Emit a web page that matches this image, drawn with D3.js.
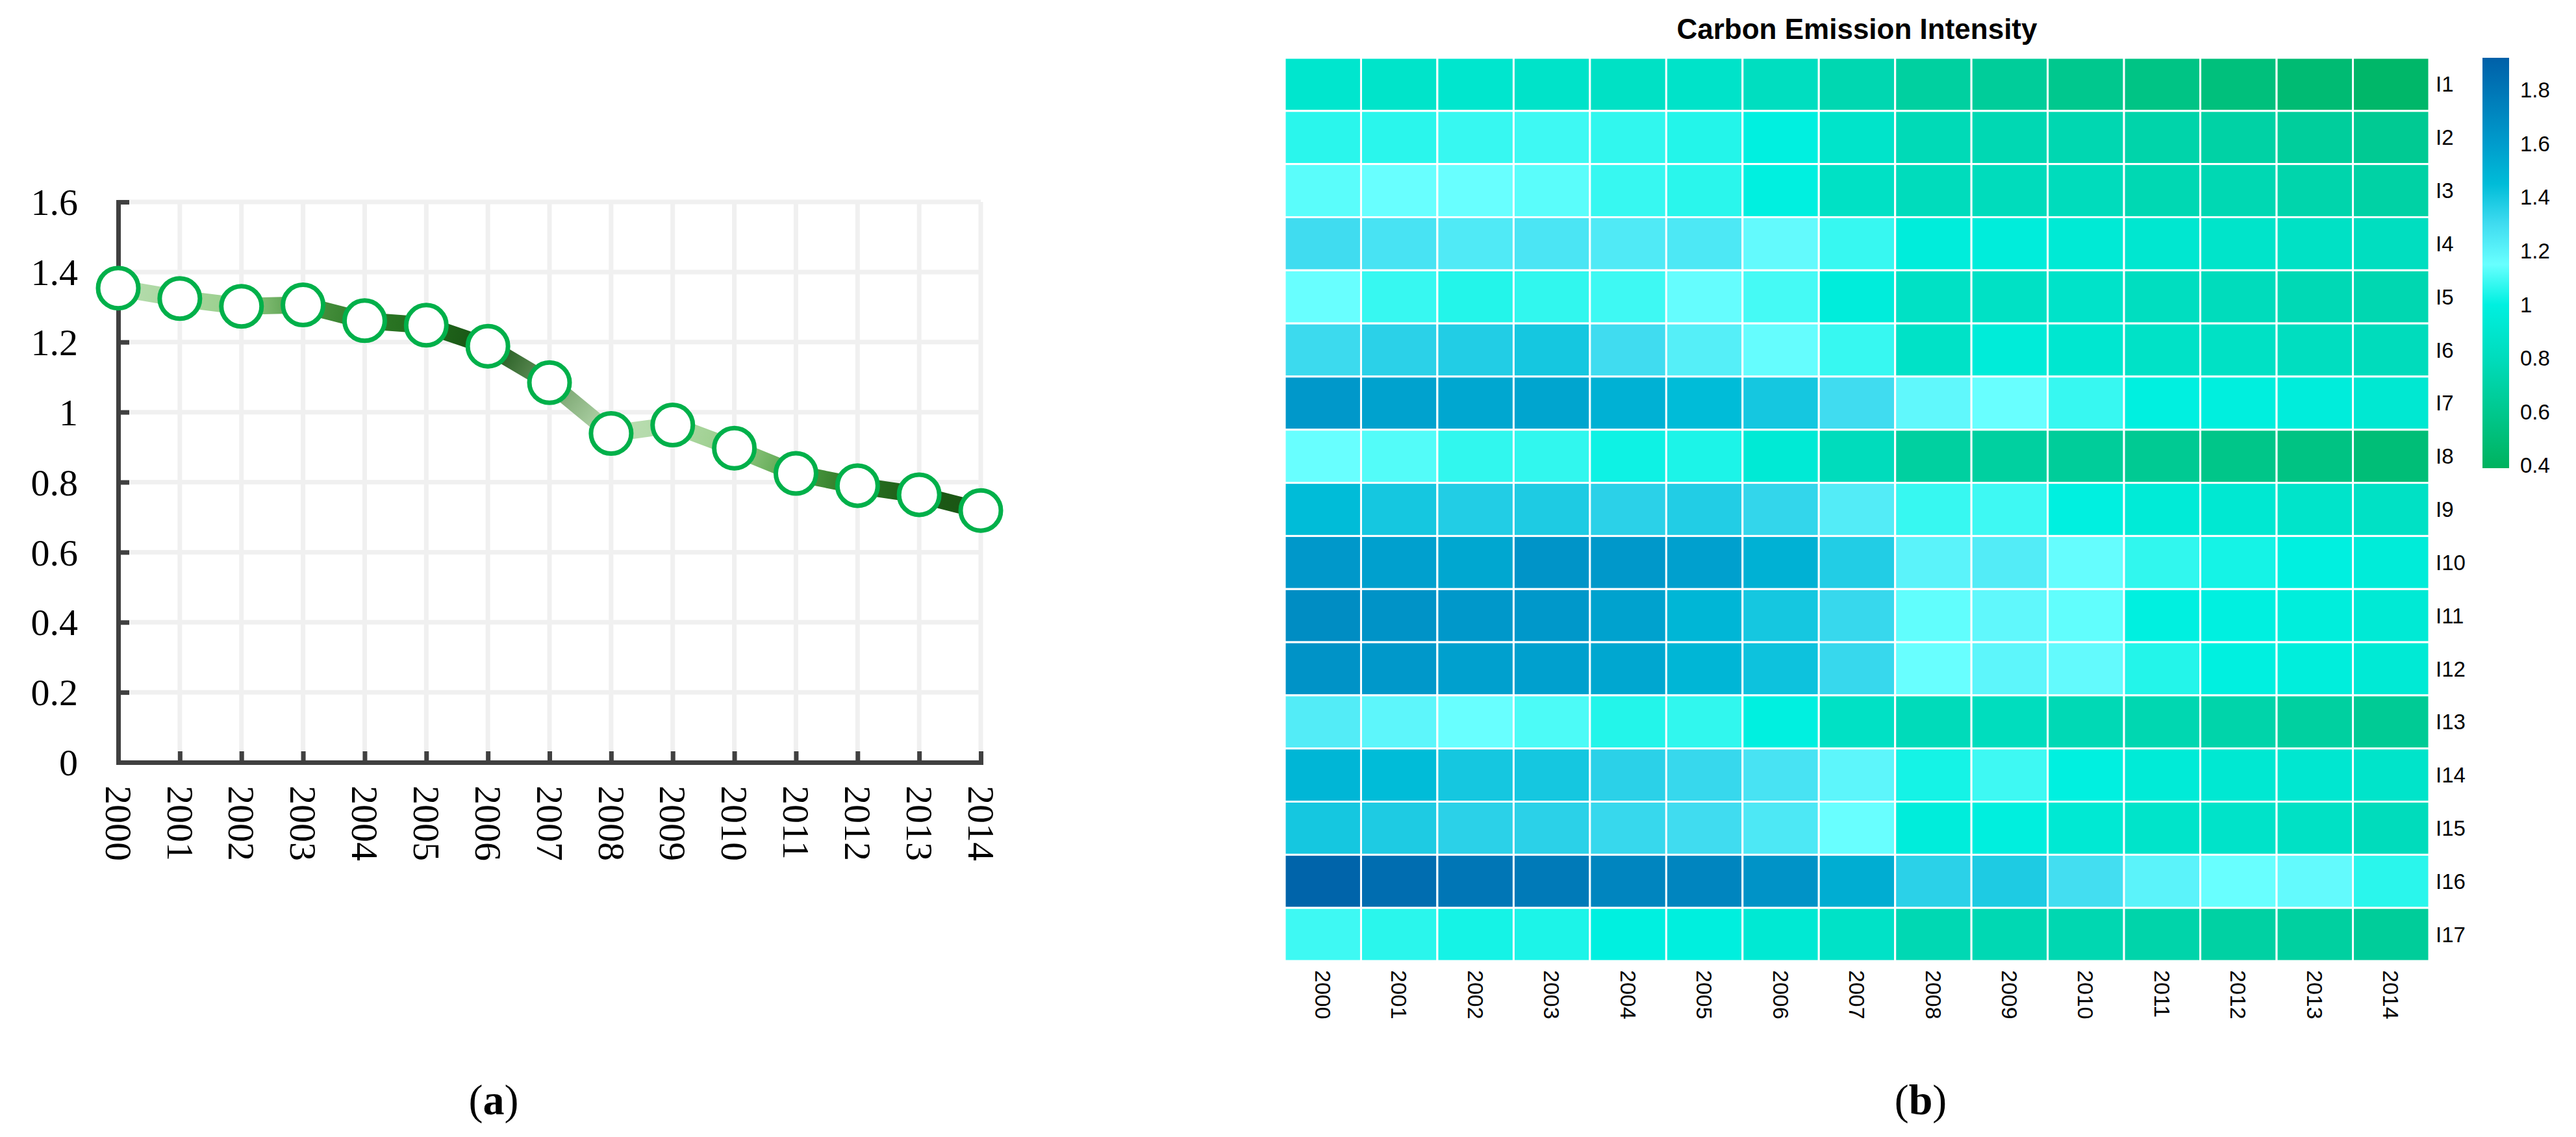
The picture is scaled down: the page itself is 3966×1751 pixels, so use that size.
<!DOCTYPE html>
<html>
<head>
<meta charset="utf-8">
<title>Carbon Emission Intensity</title>
<script src="https://d3js.org/d3.v7.min.js"></script>
<style>
  body { margin: 0; background: #fff; }
  .serif { font-family: "Liberation Serif", "DejaVu Serif", serif; }
  .sans { font-family: "Liberation Sans", Arial, sans-serif; }
</style>
</head>
<body>
<svg width="3966" height="1751"></svg>
<script>
// ---- data ----
var years = ["2000","2001","2002","2003","2004","2005","2006","2007","2008","2009","2010","2011","2012","2013","2014"];
var intensity = [1.354,1.324,1.302,1.306,1.261,1.248,1.188,1.084,0.939,0.963,0.897,0.825,0.790,0.764,0.719];
var yTicks = [0,0.2,0.4,0.6,0.8,1,1.2,1.4,1.6];

var regions = ["I1","I2","I3","I4","I5","I6","I7","I8","I9","I10","I11","I12","I13","I14","I15","I16","I17"];
var I1  = [0.90,0.88,0.90,0.87,0.85,0.87,0.82,0.75,0.68,0.65,0.60,0.56,0.52,0.48,0.44];
var I2  = [1.06,1.06,1.08,1.09,1.07,1.05,1.00,0.88,0.78,0.76,0.75,0.72,0.70,0.66,0.62];
var I3  = [1.13,1.15,1.15,1.13,1.08,1.06,1.00,0.85,0.80,0.80,0.80,0.76,0.76,0.73,0.70];
var I4  = [1.30,1.27,1.24,1.26,1.24,1.25,1.17,1.08,0.97,0.97,0.94,0.91,0.88,0.85,0.82];
var I5  = [1.15,1.08,1.05,1.07,1.09,1.16,1.10,0.97,0.85,0.85,0.87,0.82,0.80,0.77,0.75];
var I6  = [1.31,1.35,1.37,1.40,1.30,1.22,1.16,1.08,0.86,0.96,0.91,0.86,0.85,0.82,0.80];
var I7  = [1.62,1.57,1.55,1.56,1.50,1.45,1.40,1.30,1.18,1.15,1.08,1.00,0.99,0.97,0.92];
var I8  = [1.15,1.12,1.07,1.07,1.02,1.04,0.94,0.80,0.68,0.68,0.65,0.62,0.58,0.55,0.50];
var I9  = [1.45,1.40,1.37,1.38,1.35,1.37,1.33,1.23,1.08,1.09,1.00,0.95,0.92,0.88,0.85];
var I10 = [1.62,1.58,1.55,1.64,1.62,1.58,1.50,1.37,1.20,1.23,1.16,1.07,1.03,1.00,0.96];
var I11 = [1.68,1.65,1.62,1.62,1.57,1.48,1.40,1.32,1.14,1.18,1.14,1.00,1.00,0.98,0.94];
var I12 = [1.65,1.62,1.58,1.58,1.55,1.48,1.42,1.32,1.15,1.19,1.17,1.05,1.00,0.98,0.94];
var I13 = [1.23,1.19,1.15,1.11,1.05,1.07,1.00,0.85,0.79,0.81,0.77,0.75,0.72,0.68,0.63];
var I14 = [1.48,1.45,1.40,1.40,1.35,1.32,1.27,1.19,1.03,1.09,1.00,0.95,0.92,0.91,0.88];
var I15 = [1.40,1.38,1.35,1.35,1.32,1.30,1.25,1.15,0.97,0.99,0.93,0.88,0.87,0.85,0.80];
var I16 = [1.90,1.85,1.80,1.78,1.72,1.72,1.65,1.52,1.35,1.38,1.29,1.20,1.15,1.17,1.06];
var I17 = [1.09,1.06,1.03,1.04,1.00,0.99,0.93,0.86,0.76,0.76,0.75,0.72,0.69,0.68,0.65];
var heatRows = [I1,I2,I3,I4,I5,I6,I7,I8,I9,I10,I11,I12,I13,I14,I15,I16,I17];
var legendTicks = [0.4,0.6,0.8,1,1.2,1.4,1.6,1.8];

// line segment shades (style), one per year
var nodeColors = ["#b8ddb0","#a8d69e","#98ce8a","#4f9744","#2f7a28","#226a1c","#175014","#6e9a64",
                  "#bcdeb4","#b0d9a6","#98cc88","#52a046","#2a7222","#1c5a16","#1a5514"];

var svg = d3.select("svg");
svg.append("rect").attr("width", 3966).attr("height", 1751).attr("fill", "#fff");
var defs = svg.append("defs");

// ================= (a) line chart =================
var x = d3.scalePoint().domain(years).range([182, 1510]);
var y = d3.scaleLinear().domain([0, 1.6]).range([1174, 311]);

var grid = svg.append("g").attr("stroke", "#f0f0f0").attr("stroke-width", 7);
grid.selectAll(".gy").data(yTicks).enter().append("line")
  .attr("x1", 182).attr("x2", 1510)
  .attr("y1", function(d) { return y(d); }).attr("y2", function(d) { return y(d); });
grid.selectAll(".gx").data(years).enter().append("line")
  .attr("x1", function(d) { return x(d); }).attr("x2", function(d) { return x(d); })
  .attr("y1", y(1.6)).attr("y2", y(0));

var yAxis = svg.append("g").attr("transform", "translate(182,0)")
  .call(d3.axisLeft(y).tickValues(yTicks).tickFormat(function(d) { return String(d); })
        .tickSize(-17).tickPadding(62));
var xAxis = svg.append("g").attr("transform", "translate(0,1174)")
  .call(d3.axisBottom(x).tickSize(-17).tickPadding(0));
[yAxis, xAxis].forEach(function(a) {
  a.select(".domain").attr("stroke", "#404040").attr("stroke-width", 7);
  a.selectAll(".tick line").attr("stroke", "#404040").attr("stroke-width", 7);
  a.selectAll("text").attr("class", "serif").attr("font-size", 58).attr("fill", "#000");
});
yAxis.selectAll("text").attr("dy", "0.34em");
xAxis.selectAll("text")
  .attr("text-anchor", "start")
  .attr("transform", "rotate(90)")
  .attr("x", 36).attr("y", 0).attr("dy", "0.34em");

// segments with gradient colour
var segs = d3.range(years.length - 1);
segs.forEach(function(i) {
  var g = defs.append("linearGradient").attr("id", "seg" + i)
    .attr("gradientUnits", "userSpaceOnUse")
    .attr("x1", x(years[i])).attr("y1", y(intensity[i]))
    .attr("x2", x(years[i + 1])).attr("y2", y(intensity[i + 1]));
  g.append("stop").attr("offset", "0%").attr("stop-color", nodeColors[i]);
  g.append("stop").attr("offset", "100%").attr("stop-color", nodeColors[i + 1]);
});
svg.append("g").selectAll("line").data(segs).enter().append("line")
  .attr("x1", function(i) { return x(years[i]); })
  .attr("y1", function(i) { return y(intensity[i]); })
  .attr("x2", function(i) { return x(years[i + 1]); })
  .attr("y2", function(i) { return y(intensity[i + 1]); })
  .attr("stroke", function(i) { return "url(#seg" + i + ")"; })
  .attr("stroke-width", 26);

svg.append("g").selectAll("circle").data(intensity).enter().append("circle")
  .attr("cx", function(d, i) { return x(years[i]); })
  .attr("cy", function(d) { return y(d); })
  .attr("r", 31)
  .attr("fill", "#fff")
  .attr("stroke", "#00b04a")
  .attr("stroke-width", 7);

svg.append("text").attr("class", "serif").attr("x", 760).attr("y", 1716)
  .attr("text-anchor", "middle").attr("font-size", 66)
  .html('(<tspan font-weight="bold">a</tspan>)');

// ================= (b) heatmap =================
var hx = d3.scaleBand().domain(years).range([1978, 3740]);
var hy = d3.scaleBand().domain(regions).range([89, 1480]);
var color = d3.scaleLinear()
  .domain([0.39, 0.6, 0.8, 1.0, 1.15, 1.3, 1.45, 1.6, 1.8, 1.92])
  .range(["#00b25e","#00c88e","#00dcbc","#00f0e0","#68ffff","#40dcf0","#00bcd8","#009ccc","#0076b6","#0060a8"])
  .clamp(true);

var cells = [];
heatRows.forEach(function(row, r) {
  row.forEach(function(v, c) { cells.push({ region: regions[r], year: years[c], value: v }); });
});

svg.append("g").selectAll("rect").data(cells).enter().append("rect")
  .attr("x", function(d) { return hx(d.year); })
  .attr("y", function(d) { return hy(d.region); })
  .attr("width", hx.bandwidth())
  .attr("height", hy.bandwidth())
  .attr("fill", function(d) { return color(d.value); })
  .attr("stroke", "#fff")
  .attr("stroke-width", 3);

svg.append("text").attr("class", "sans").attr("x", 2859).attr("y", 60)
  .attr("text-anchor", "middle").attr("font-size", 44).attr("font-weight", "bold")
  .text("Carbon Emission Intensity");

svg.append("g").selectAll("text").data(regions).enter().append("text")
  .attr("class", "sans").attr("font-size", 33)
  .attr("x", 3750)
  .attr("y", function(d) { return hy(d) + hy.bandwidth() / 2; })
  .attr("dy", "0.35em")
  .text(function(d) { return d; });

svg.append("g").selectAll("text").data(years).enter().append("text")
  .attr("class", "sans").attr("font-size", 34)
  .attr("transform", function(d) { return "translate(" + (hx(d) + hx.bandwidth() / 2) + ",1494) rotate(90)"; })
  .attr("dy", "0.35em")
  .text(function(d) { return d; });

// colour bar
var ly = d3.scaleLinear().domain([0.39, 1.92]).range([721, 89]);
var lg = defs.append("linearGradient").attr("id", "legend")
  .attr("x1", 0).attr("y1", 1).attr("x2", 0).attr("y2", 0);
color.domain().forEach(function(v) {
  lg.append("stop").attr("offset", ((v - 0.39) / (1.92 - 0.39) * 100) + "%").attr("stop-color", color(v));
});
svg.append("rect").attr("x", 3822).attr("y", 89).attr("width", 41).attr("height", 632)
  .attr("fill", "url(#legend)");
svg.append("g").selectAll("text").data(legendTicks).enter().append("text")
  .attr("class", "sans").attr("font-size", 33)
  .attr("x", 3880)
  .attr("y", function(d) { return ly(d); })
  .attr("dy", "0.35em")
  .text(function(d) { return String(d); });

svg.append("text").attr("class", "serif").attr("x", 2957).attr("y", 1716)
  .attr("text-anchor", "middle").attr("font-size", 66)
  .html('(<tspan font-weight="bold">b</tspan>)');
</script>
</body>
</html>
